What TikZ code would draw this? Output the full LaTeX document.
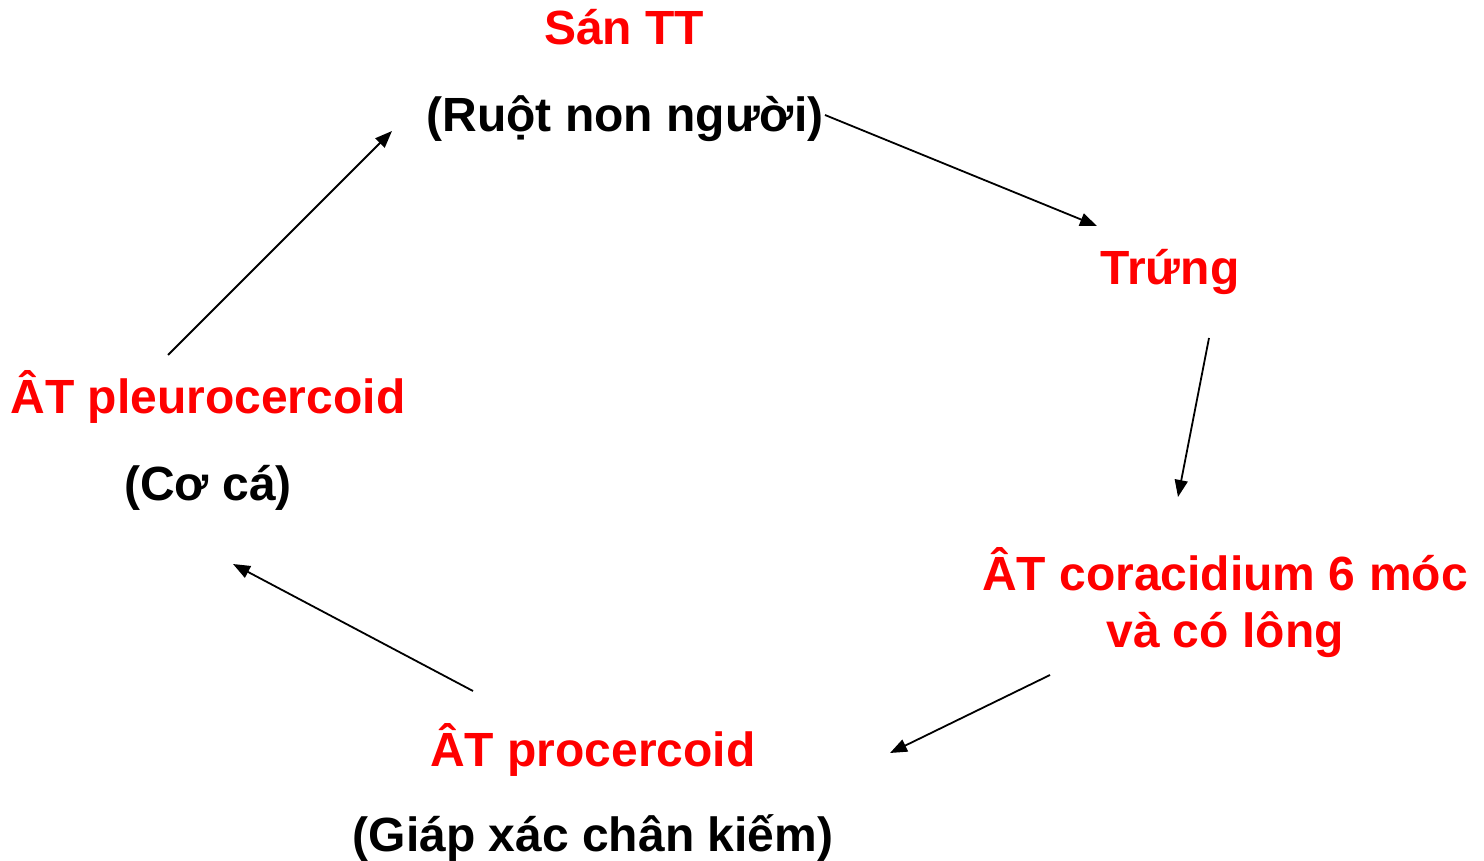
\documentclass[tikz,border=0pt]{standalone}
\usepackage{fontspec}
\setmainfont{Liberation Sans}
\usetikzlibrary{arrows.meta}
\definecolor{redtxt}{RGB}{255,0,0}
\tikzset{
  lbl/.style={anchor=base,inner sep=0pt,font=\fontsize{48}{57}\selectfont\bfseries},
  host/.style={lbl,text=black},
  stage/.style={lbl,text=redtxt},
  arr/.style={line width=1.8pt,-{Triangle[length=17pt,width=13pt]}}
}
\begin{document}
\begin{tikzpicture}[x=1pt,y=-1pt]
\useasboundingbox (0,0) rectangle (1484,861);
\node[stage] (san) at (624,45) {Sán TT};
\node[host] (ruot) at (625,132) {(Ruột non người)};
\node[stage] (trung) at (1170,285) {Trứng};
\node[stage] (cora1) at (1225,590) {ÂT coracidium 6 móc};
\node[stage] (cora2) at (1225,647) {và có lông};
\node[stage] (proc) at (593,766) {ÂT procercoid};
\node[host] (giap) at (593,851) {(Giáp xác chân kiếm)};
\node[stage] (pleu) at (208,413) {ÂT pleurocercoid};
\node[host] (co) at (208,500) {(Cơ cá)};
\coordinate (a1s) at (168,355); \coordinate (a1e) at (392,131);
\coordinate (a2s) at (825,115); \coordinate (a2e) at (1097,226);
\coordinate (a3s) at (1209,338); \coordinate (a3e) at (1178,497);
\coordinate (a4s) at (1050,675); \coordinate (a4e) at (890,753);
\coordinate (a5s) at (473,691); \coordinate (a5e) at (233,564);
\draw[arr] (a1s) -- (a1e);
\draw[arr] (a2s) -- (a2e);
\draw[arr] (a3s) -- (a3e);
\draw[arr] (a4s) -- (a4e);
\draw[arr] (a5s) -- (a5e);
\end{tikzpicture}
\end{document}
